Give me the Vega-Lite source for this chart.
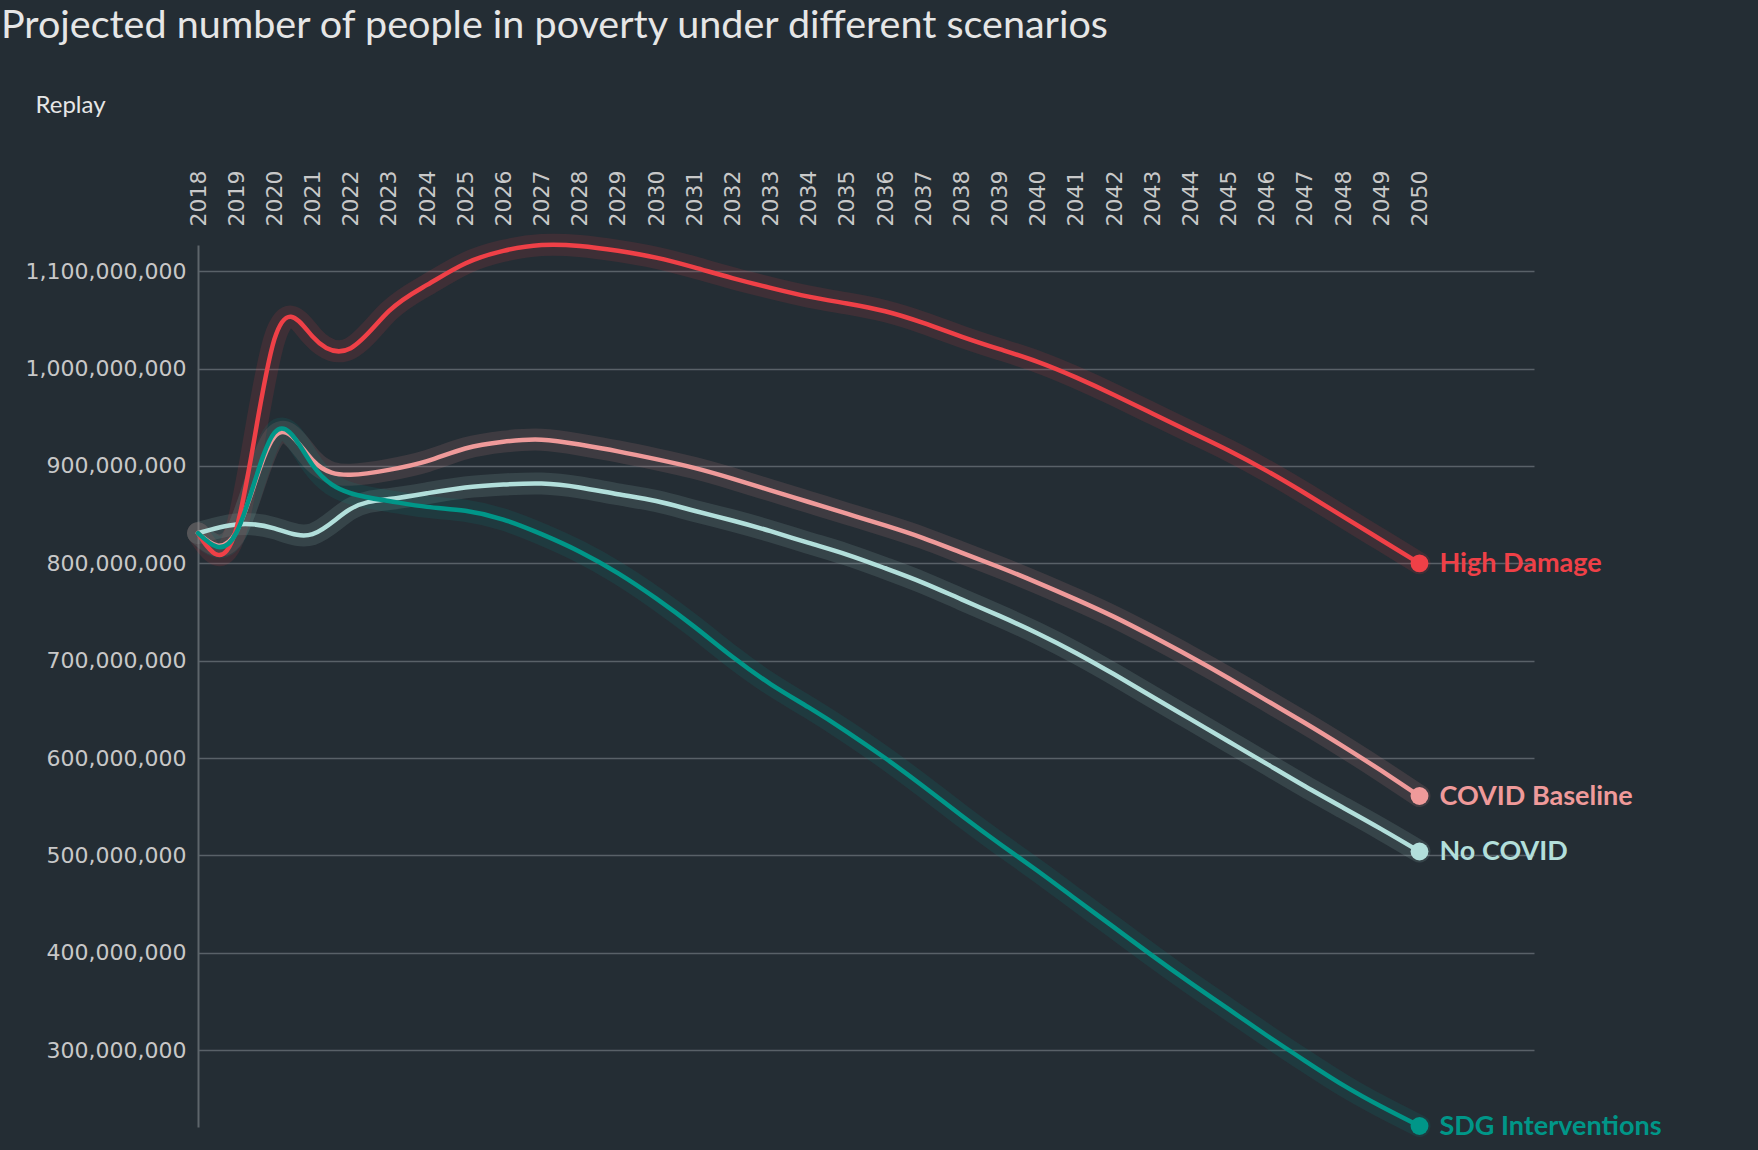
{
  "$schema": "https://vega.github.io/schema/vega-lite/v6.json",
  "autosize": {"type": "none"},
  "width": 1336,
  "height": 882,
  "padding": {"left": 198, "top": 245, "right": 224, "bottom": 23},
  "background": "#242d34",
  "title": {
    "text": "Projected number of people in poverty under different scenarios",
    "anchor": "start",
    "frame": "group",
    "dx": -197,
    "offset": 47,
    "font": "Lato",
    "fontSize": 39.5,
    "fontWeight": "normal",
    "color": "#e6e6e6"
  },
  "data": {
    "values": [
      {"scenario": "No COVID", "year": 2018, "people": 831000000},
      {"scenario": "No COVID", "year": 2019, "people": 840000000},
      {"scenario": "No COVID", "year": 2020, "people": 836000000},
      {"scenario": "No COVID", "year": 2021, "people": 830000000},
      {"scenario": "No COVID", "year": 2022, "people": 856000000},
      {"scenario": "No COVID", "year": 2023, "people": 866000000},
      {"scenario": "No COVID", "year": 2024, "people": 872000000},
      {"scenario": "No COVID", "year": 2025, "people": 878000000},
      {"scenario": "No COVID", "year": 2026, "people": 881000000},
      {"scenario": "No COVID", "year": 2027, "people": 882000000},
      {"scenario": "No COVID", "year": 2028, "people": 878000000},
      {"scenario": "No COVID", "year": 2029, "people": 871000000},
      {"scenario": "No COVID", "year": 2030, "people": 864000000},
      {"scenario": "No COVID", "year": 2031, "people": 854000000},
      {"scenario": "No COVID", "year": 2032, "people": 844000000},
      {"scenario": "No COVID", "year": 2033, "people": 833000000},
      {"scenario": "No COVID", "year": 2034, "people": 821000000},
      {"scenario": "No COVID", "year": 2035, "people": 809000000},
      {"scenario": "No COVID", "year": 2036, "people": 795000000},
      {"scenario": "No COVID", "year": 2037, "people": 780000000},
      {"scenario": "No COVID", "year": 2038, "people": 763000000},
      {"scenario": "No COVID", "year": 2039, "people": 746000000},
      {"scenario": "No COVID", "year": 2040, "people": 728000000},
      {"scenario": "No COVID", "year": 2041, "people": 708000000},
      {"scenario": "No COVID", "year": 2042, "people": 686000000},
      {"scenario": "No COVID", "year": 2043, "people": 663000000},
      {"scenario": "No COVID", "year": 2044, "people": 640000000},
      {"scenario": "No COVID", "year": 2045, "people": 617000000},
      {"scenario": "No COVID", "year": 2046, "people": 594000000},
      {"scenario": "No COVID", "year": 2047, "people": 571000000},
      {"scenario": "No COVID", "year": 2048, "people": 549000000},
      {"scenario": "No COVID", "year": 2049, "people": 527000000},
      {"scenario": "No COVID", "year": 2050, "people": 504000000},
      {"scenario": "COVID Baseline", "year": 2018, "people": 831000000},
      {"scenario": "COVID Baseline", "year": 2019, "people": 832000000},
      {"scenario": "COVID Baseline", "year": 2020, "people": 930000000},
      {"scenario": "COVID Baseline", "year": 2021, "people": 906000000},
      {"scenario": "COVID Baseline", "year": 2022, "people": 891000000},
      {"scenario": "COVID Baseline", "year": 2023, "people": 896000000},
      {"scenario": "COVID Baseline", "year": 2024, "people": 905000000},
      {"scenario": "COVID Baseline", "year": 2025, "people": 918000000},
      {"scenario": "COVID Baseline", "year": 2026, "people": 925000000},
      {"scenario": "COVID Baseline", "year": 2027, "people": 927000000},
      {"scenario": "COVID Baseline", "year": 2028, "people": 922000000},
      {"scenario": "COVID Baseline", "year": 2029, "people": 915000000},
      {"scenario": "COVID Baseline", "year": 2030, "people": 907000000},
      {"scenario": "COVID Baseline", "year": 2031, "people": 898000000},
      {"scenario": "COVID Baseline", "year": 2032, "people": 887000000},
      {"scenario": "COVID Baseline", "year": 2033, "people": 875000000},
      {"scenario": "COVID Baseline", "year": 2034, "people": 863000000},
      {"scenario": "COVID Baseline", "year": 2035, "people": 851000000},
      {"scenario": "COVID Baseline", "year": 2036, "people": 839000000},
      {"scenario": "COVID Baseline", "year": 2037, "people": 826000000},
      {"scenario": "COVID Baseline", "year": 2038, "people": 811000000},
      {"scenario": "COVID Baseline", "year": 2039, "people": 796000000},
      {"scenario": "COVID Baseline", "year": 2040, "people": 780000000},
      {"scenario": "COVID Baseline", "year": 2041, "people": 763000000},
      {"scenario": "COVID Baseline", "year": 2042, "people": 745000000},
      {"scenario": "COVID Baseline", "year": 2043, "people": 725000000},
      {"scenario": "COVID Baseline", "year": 2044, "people": 704000000},
      {"scenario": "COVID Baseline", "year": 2045, "people": 682000000},
      {"scenario": "COVID Baseline", "year": 2046, "people": 659000000},
      {"scenario": "COVID Baseline", "year": 2047, "people": 636000000},
      {"scenario": "COVID Baseline", "year": 2048, "people": 612000000},
      {"scenario": "COVID Baseline", "year": 2049, "people": 587000000},
      {"scenario": "COVID Baseline", "year": 2050, "people": 561000000},
      {"scenario": "High Damage", "year": 2018, "people": 831000000},
      {"scenario": "High Damage", "year": 2019, "people": 835000000},
      {"scenario": "High Damage", "year": 2020, "people": 1030000000},
      {"scenario": "High Damage", "year": 2021, "people": 1033000000},
      {"scenario": "High Damage", "year": 2022, "people": 1021000000},
      {"scenario": "High Damage", "year": 2023, "people": 1059000000},
      {"scenario": "High Damage", "year": 2024, "people": 1086000000},
      {"scenario": "High Damage", "year": 2025, "people": 1108000000},
      {"scenario": "High Damage", "year": 2026, "people": 1121000000},
      {"scenario": "High Damage", "year": 2027, "people": 1127000000},
      {"scenario": "High Damage", "year": 2028, "people": 1126000000},
      {"scenario": "High Damage", "year": 2029, "people": 1121000000},
      {"scenario": "High Damage", "year": 2030, "people": 1114000000},
      {"scenario": "High Damage", "year": 2031, "people": 1104000000},
      {"scenario": "High Damage", "year": 2032, "people": 1093000000},
      {"scenario": "High Damage", "year": 2033, "people": 1083000000},
      {"scenario": "High Damage", "year": 2034, "people": 1074000000},
      {"scenario": "High Damage", "year": 2035, "people": 1067000000},
      {"scenario": "High Damage", "year": 2036, "people": 1059000000},
      {"scenario": "High Damage", "year": 2037, "people": 1047000000},
      {"scenario": "High Damage", "year": 2038, "people": 1033000000},
      {"scenario": "High Damage", "year": 2039, "people": 1020000000},
      {"scenario": "High Damage", "year": 2040, "people": 1007000000},
      {"scenario": "High Damage", "year": 2041, "people": 991000000},
      {"scenario": "High Damage", "year": 2042, "people": 973000000},
      {"scenario": "High Damage", "year": 2043, "people": 954000000},
      {"scenario": "High Damage", "year": 2044, "people": 935000000},
      {"scenario": "High Damage", "year": 2045, "people": 916000000},
      {"scenario": "High Damage", "year": 2046, "people": 895000000},
      {"scenario": "High Damage", "year": 2047, "people": 872000000},
      {"scenario": "High Damage", "year": 2048, "people": 848000000},
      {"scenario": "High Damage", "year": 2049, "people": 824000000},
      {"scenario": "High Damage", "year": 2050, "people": 800000000},
      {"scenario": "SDG Interventions", "year": 2018, "people": 831000000},
      {"scenario": "SDG Interventions", "year": 2019, "people": 831000000},
      {"scenario": "SDG Interventions", "year": 2020, "people": 934000000},
      {"scenario": "SDG Interventions", "year": 2021, "people": 901000000},
      {"scenario": "SDG Interventions", "year": 2022, "people": 872000000},
      {"scenario": "SDG Interventions", "year": 2023, "people": 864000000},
      {"scenario": "SDG Interventions", "year": 2024, "people": 858000000},
      {"scenario": "SDG Interventions", "year": 2025, "people": 854000000},
      {"scenario": "SDG Interventions", "year": 2026, "people": 845000000},
      {"scenario": "SDG Interventions", "year": 2027, "people": 830000000},
      {"scenario": "SDG Interventions", "year": 2028, "people": 812000000},
      {"scenario": "SDG Interventions", "year": 2029, "people": 790000000},
      {"scenario": "SDG Interventions", "year": 2030, "people": 764000000},
      {"scenario": "SDG Interventions", "year": 2031, "people": 735000000},
      {"scenario": "SDG Interventions", "year": 2032, "people": 704000000},
      {"scenario": "SDG Interventions", "year": 2033, "people": 676000000},
      {"scenario": "SDG Interventions", "year": 2034, "people": 652000000},
      {"scenario": "SDG Interventions", "year": 2035, "people": 627000000},
      {"scenario": "SDG Interventions", "year": 2036, "people": 600000000},
      {"scenario": "SDG Interventions", "year": 2037, "people": 571000000},
      {"scenario": "SDG Interventions", "year": 2038, "people": 541000000},
      {"scenario": "SDG Interventions", "year": 2039, "people": 512000000},
      {"scenario": "SDG Interventions", "year": 2040, "people": 484000000},
      {"scenario": "SDG Interventions", "year": 2041, "people": 455000000},
      {"scenario": "SDG Interventions", "year": 2042, "people": 426000000},
      {"scenario": "SDG Interventions", "year": 2043, "people": 397000000},
      {"scenario": "SDG Interventions", "year": 2044, "people": 369000000},
      {"scenario": "SDG Interventions", "year": 2045, "people": 342000000},
      {"scenario": "SDG Interventions", "year": 2046, "people": 315000000},
      {"scenario": "SDG Interventions", "year": 2047, "people": 289000000},
      {"scenario": "SDG Interventions", "year": 2048, "people": 264000000},
      {"scenario": "SDG Interventions", "year": 2049, "people": 242000000},
      {"scenario": "SDG Interventions", "year": 2050, "people": 222000000}
    ]
  },
  "encoding": {
    "x": {
      "field": "year",
      "type": "quantitative",
      "scale": {"domain": [2018, 2053], "nice": false, "zero": false},
      "axis": {
        "orient": "top",
        "values": [2018, 2019, 2020, 2021, 2022, 2023, 2024, 2025, 2026, 2027, 2028, 2029, 2030, 2031, 2032, 2033, 2034, 2035, 2036, 2037, 2038, 2039, 2040, 2041, 2042, 2043, 2044, 2045, 2046, 2047, 2048, 2049, 2050],
        "format": "d",
        "labelAngle": -90,
        "labelAlign": "left",
        "labelBaseline": "middle",
        "labelFont": "DejaVu Sans",
        "labelFontSize": 22,
        "labelColor": "#c8c8c8",
        "labelPadding": 19,
        "labelOverlap": false,
        "labelFlush": false,
        "ticks": false,
        "domain": false,
        "grid": false,
        "title": "Replay",
        "titleX": -128,
        "titleY": -140,
        "titleAngle": 0,
        "titleAlign": "center",
        "titleBaseline": "middle",
        "titleFont": "Lato",
        "titleFontSize": 24,
        "titleFontWeight": "normal",
        "titleColor": "#e6e6e6"
      }
    },
    "y": {
      "field": "people",
      "type": "quantitative",
      "scale": {"domain": [221000000, 1127000000], "nice": false, "zero": false},
      "axis": {
        "values": [300000000, 400000000, 500000000, 600000000, 700000000, 800000000, 900000000, 1000000000, 1100000000],
        "format": ",.0f",
        "labelFont": "DejaVu Sans",
        "labelFontSize": 22,
        "labelColor": "#c8c8c8",
        "labelPadding": 12,
        "labelOverlap": false,
        "ticks": false,
        "domain": true,
        "domainColor": "#5d656a",
        "domainWidth": 2,
        "grid": true,
        "gridColor": "#596168",
        "gridWidth": 1.5,
        "title": null
      }
    },
    "color": {
      "field": "scenario",
      "type": "nominal",
      "scale": {
        "domain": ["High Damage", "COVID Baseline", "No COVID", "SDG Interventions"],
        "range": ["#ef4047", "#ef9a9a", "#b2dfdb", "#009688"]
      },
      "legend": null
    }
  },
  "layer": [
    {"mark": {"type": "line", "interpolate": "natural", "strokeWidth": 22, "opacity": 0.13, "strokeCap": "round", "strokeJoin": "round"}},
    {"mark": {"type": "line", "interpolate": "natural", "strokeWidth": 4.5, "strokeCap": "round"}},
    {
      "transform": [{"filter": "datum.year == 2050"}],
      "mark": {"type": "point", "filled": true, "size": 320, "opacity": 1}
    },
    {
      "transform": [{"filter": "datum.year == 2050"}],
      "mark": {"type": "text", "align": "left", "baseline": "middle", "dx": 20, "dy": 1, "font": "Lato", "fontSize": 27, "fontWeight": "bold"},
      "encoding": {"text": {"field": "scenario", "type": "nominal"}}
    }
  ],
  "config": {"view": {"stroke": null}}
}
